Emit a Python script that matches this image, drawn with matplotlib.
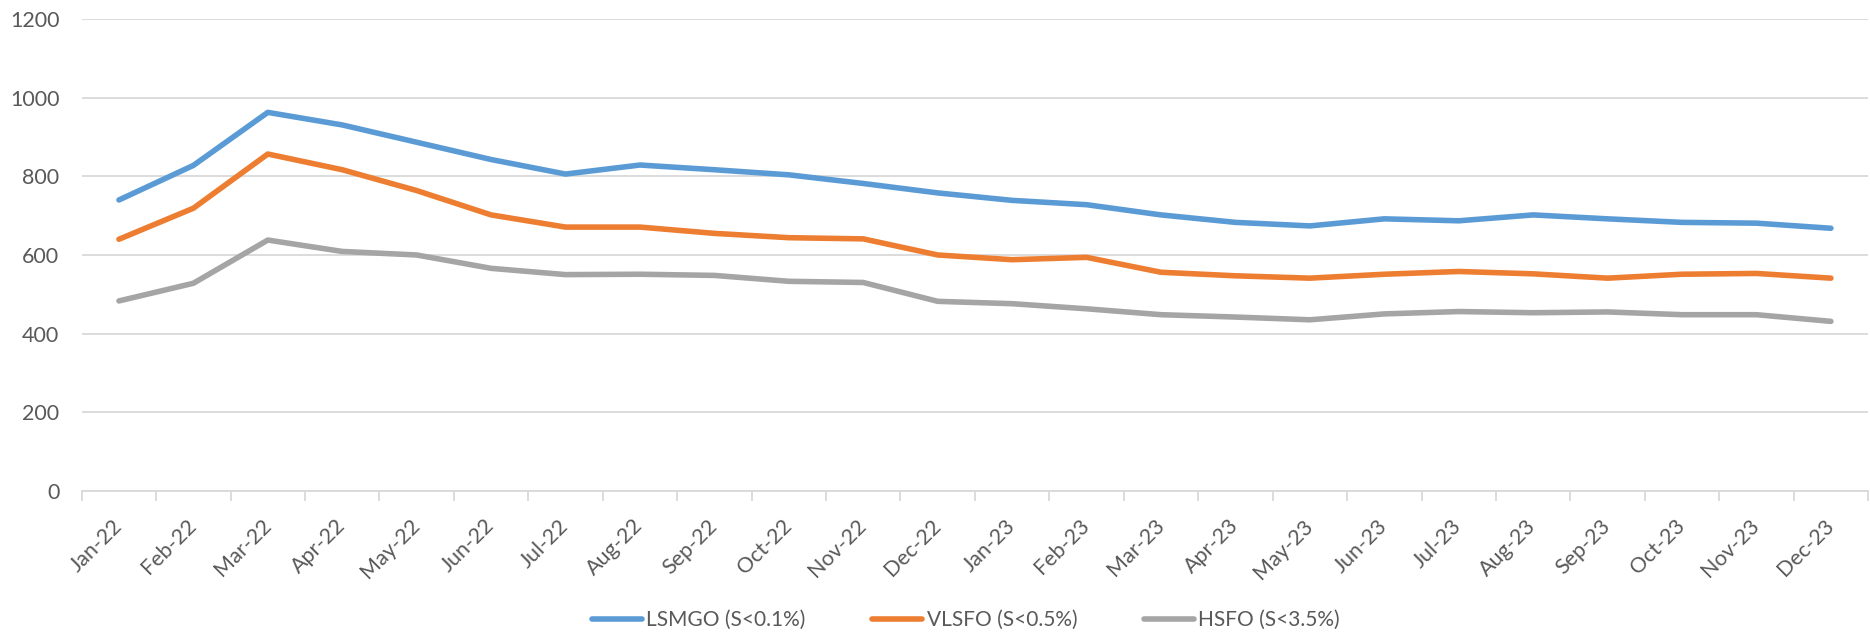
import matplotlib.pyplot as plt
import numpy as np

plt.rcParams['font.family'] = ['Lato', 'DejaVu Sans']

months = ['Jan-22', 'Feb-22', 'Mar-22', 'Apr-22', 'May-22', 'Jun-22', 'Jul-22', 'Aug-22',
          'Sep-22', 'Oct-22', 'Nov-22', 'Dec-22', 'Jan-23', 'Feb-23', 'Mar-23', 'Apr-23',
          'May-23', 'Jun-23', 'Jul-23', 'Aug-23', 'Sep-23', 'Oct-23', 'Nov-23', 'Dec-23']

lsmgo = [740, 828, 963, 931, 887, 843, 806, 829, 817, 804, 782, 758,
         739, 728, 702, 683, 674, 692, 687, 702, 692, 683, 681, 668]
vlsfo = [640, 719, 857, 817, 764, 702, 671, 671, 655, 644, 641, 600,
         588, 594, 556, 547, 541, 551, 558, 552, 541, 551, 553, 541]
hsfo = [483, 528, 638, 609, 600, 566, 550, 551, 548, 533, 530, 482,
        476, 463, 448, 442, 435, 450, 456, 453, 455, 448, 448, 431]

names = ['LSMGO (S<0.1%)', 'VLSFO (S<0.5%)', 'HSFO (S<3.5%)']
colors = ['#5B9BD5', '#ED7D31', '#A5A5A5']

fig = plt.figure(figsize=(18.7, 6.32), dpi=100)
ax = fig.add_axes([0.0437, 0.2236, 0.9553, 0.7459])

x = np.arange(len(months))
for vals, name, c in zip([lsmgo, vlsfo, hsfo], names, colors):
    ax.plot(x, vals, color=c, lw=4, label=name, solid_capstyle='round', solid_joinstyle='round')

ax.set_ylim(0, 1200)
ax.set_xlim(-0.5, len(months) - 0.5)
ax.set_yticks(range(0, 1201, 200))
ax.yaxis.grid(True, color='#D9D9D9', lw=1.3)
ax.set_axisbelow(True)
for s in ['top', 'right', 'left']:
    ax.spines[s].set_visible(False)
ax.spines['bottom'].set_color('#D9D9D9')
ax.spines['bottom'].set_linewidth(1.3)

ax.set_xticks(x)
ax.set_xticklabels(months, rotation=45, ha='right', va='center', rotation_mode='anchor')
ax.set_xticks(np.arange(-0.5, len(months)), minor=True)
ax.tick_params(axis='x', which='major', length=0, pad=23, labelsize=15.5, labelcolor='#595959')
ax.tick_params(axis='x', which='minor', length=7, width=1.3, color='#D9D9D9')
ax.tick_params(axis='y', length=0, pad=16, labelsize=15.5, labelcolor='#595959')

fig.legend(loc='center', bbox_to_anchor=(966 / 1870, 12 / 632), ncol=3, frameon=False,
           fontsize=15, labelcolor='#595959', handlelength=2.4, handletextpad=0.2,
           columnspacing=3.2)

fig.savefig('out.png', dpi=100)
